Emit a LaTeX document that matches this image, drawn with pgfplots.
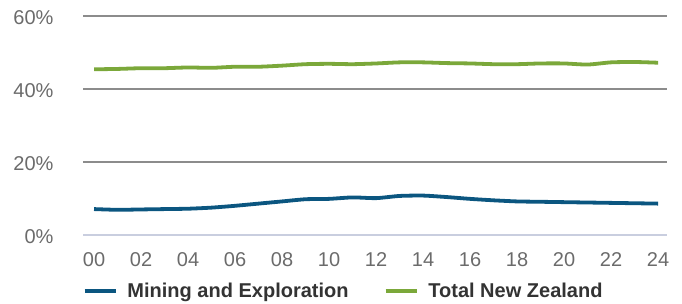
\documentclass[border=0pt]{standalone}
\usepackage{pgfplots}
\pgfplotsset{compat=1.18}
\usepackage{fontspec}
\setmainfont{Liberation Sans}
\definecolor{mineblue}{HTML}{0B5680}
\definecolor{nzgreen}{HTML}{7BA83A}
\definecolor{gridgray}{HTML}{8C8C8C}
\definecolor{zeroline}{HTML}{C9CEDF}
\definecolor{ticktext}{HTML}{6B6B6B}
\definecolor{legtext}{HTML}{333333}
\begin{document}
\begin{tikzpicture}
\path[use as bounding box] (0,0) rectangle (682pt,303pt);
\begin{axis}[
  at={(83pt,68pt)}, anchor=south west,
  scale only axis, width=584pt, height=219pt,
  xmin=-0.47, xmax=24.38, ymin=0, ymax=60,
  axis line style={draw=none},
  tick style={draw=none},
  xtick={0,2,...,24},
  xticklabels={00,02,04,06,08,10,12,14,16,18,20,22,24},
  ytick={0,20,40,60},
  yticklabels={0\%,20\%,40\%,60\%},
  ymajorgrids,
  major grid style={draw=gridgray, line width=1.6pt},
  /pgf/number format/assume math mode=true,
  ticklabel style={font=\fontsize{20}{24}\selectfont, text=ticktext},
  yticklabel style={anchor=east, xshift=-26pt, yshift=-2pt},
  xticklabel style={anchor=north, yshift=-14pt},
  clip=false,
  legend columns=2,
  legend style={at={(-0.006,-0.256)}, anchor=west, draw=none, fill=none,
    font=\fontsize{20}{24}\selectfont\bfseries, text=legtext,
    /tikz/every odd column/.append style={column sep=10pt},
    /tikz/every even column/.append style={column sep=35pt},
    nodes={inner sep=0pt}},
  legend image code/.code={\draw[#1] (0pt,0pt) -- (31pt,0pt);},
]
\draw[zeroline, line width=2.4pt] (axis cs:-0.47,0) -- (axis cs:24.38,0);
\addplot[mineblue, line width=3.8pt, smooth, tension=0.4] coordinates {
(0,7.1) (1,6.9) (2,7.0) (3,7.1) (4,7.2) (5,7.5) (6,8.0) (7,8.6) (8,9.2) (9,9.8) (10,9.9) (11,10.3) (12,10.1) (13,10.7) (14,10.8) (15,10.4) (16,9.9) (17,9.5) (18,9.2) (19,9.1) (20,9.0) (21,8.9) (22,8.8) (23,8.7) (24,8.6)
};
\addlegendentry{Mining and Exploration}
\addplot[nzgreen, line width=3.8pt, smooth, tension=0.4] coordinates {
(0,45.4) (1,45.5) (2,45.7) (3,45.7) (4,45.9) (5,45.8) (6,46.1) (7,46.1) (8,46.4) (9,46.8) (10,46.9) (11,46.8) (12,47.0) (13,47.3) (14,47.3) (15,47.1) (16,47.0) (17,46.8) (18,46.8) (19,47.0) (20,47.0) (21,46.7) (22,47.3) (23,47.4) (24,47.2)
};
\addlegendentry{Total New Zealand}
\end{axis}
\end{tikzpicture}
\end{document}
